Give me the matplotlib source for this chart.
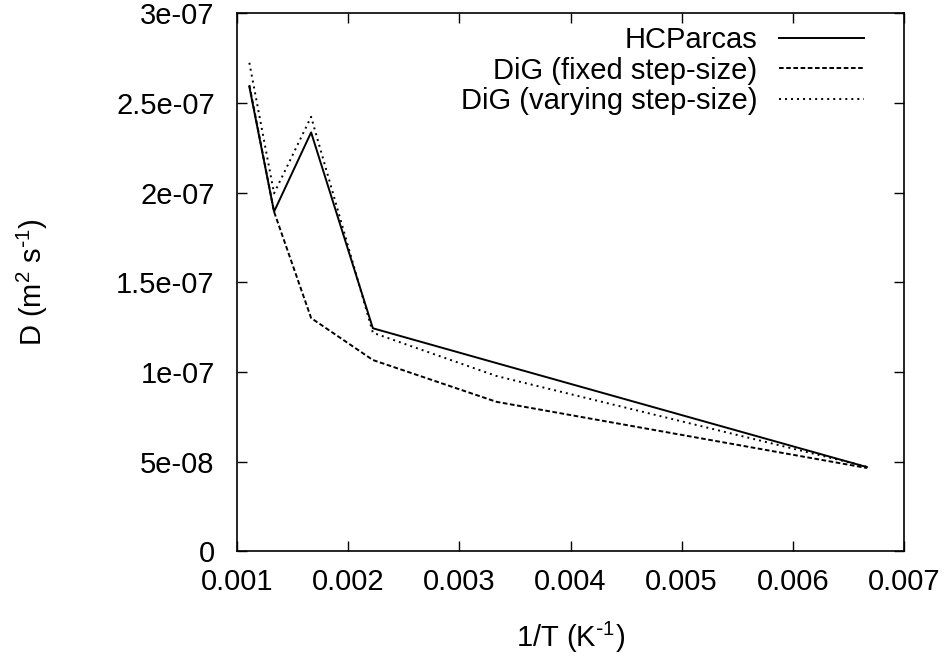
import matplotlib
matplotlib.use("Agg")
import matplotlib.pyplot as plt

plt.rcParams['font.family'] = ['Liberation Sans', 'DejaVu Sans']
plt.rcParams['mathtext.default'] = 'regular'

# Data: x = 1/T (K^-1), D (m^2 s^-1)
inv_T = [1/900, 1/750, 1/600, 1/450, 1/300, 1/150]
hcparcas = [2.59e-07, 1.894e-07, 2.336e-07, 1.244e-07, 1.050e-07, 4.70e-08]
dig_fixed = [2.60e-07, 1.894e-07, 1.301e-07, 1.067e-07, 8.34e-08, 4.65e-08]
dig_vary = [2.724e-07, 1.996e-07, 2.423e-07, 1.219e-07, 9.78e-08, 4.72e-08]

labels = ["HCParcas", "DiG (fixed step-size)", "DiG (varying step-size)"]

x_ticks = [0.001, 0.002, 0.003, 0.004, 0.005, 0.006, 0.007]
x_tick_labels = ["0.001", "0.002", "0.003", "0.004", "0.005", "0.006", "0.007"]
y_ticks = [0, 5e-08, 1e-07, 1.5e-07, 2e-07, 2.5e-07, 3e-07]
y_tick_labels = ["0", "5e-08", "1e-07", "1.5e-07", "2e-07", "2.5e-07", "3e-07"]

fig = plt.figure(figsize=(9.47, 6.57), dpi=100)
ax = fig.add_axes([237/947, 1-551.4/657, (904-237)/947, (551.4-13.3)/657])

lw = 1.4
ax.plot(inv_T, hcparcas, color='black', lw=lw, linestyle='-', label=labels[0])
ax.plot(inv_T, dig_fixed, color='black', lw=lw, linestyle=(0, (2.4, 1.3)), label=labels[1])
ax.plot(inv_T, dig_vary, color='black', lw=lw, linestyle=(0, (1.0, 2.1)), label=labels[2])

ax.set_xlim(0.001, 0.007)
ax.set_ylim(0, 3e-07)
ax.set_xticks(x_ticks)
ax.set_xticklabels(x_tick_labels)
ax.set_yticks(y_ticks)
ax.set_yticklabels(y_tick_labels)

fs = 21
ax.tick_params(direction='in', length=7, width=1, top=True, right=True,
               labelsize=fs)
ax.tick_params(axis='x', pad=12)
ax.tick_params(axis='y', pad=16)
for s in ax.spines.values():
    s.set_linewidth(1.2)

ax.set_xlabel(r"1/T (K$^{\text{-}1}$)", fontsize=fs)
ax.set_ylabel(r"D (m$^{2}$ s$^{\text{-}1}$)", fontsize=fs)
ax.xaxis.set_label_coords(0.5, -0.128)
ax.yaxis.set_label_coords(-0.280, 0.5)

leg = ax.legend(loc='upper right', bbox_to_anchor=(1 - 40/667, 1 - 13/538),
                frameon=False, markerfirst=False, fontsize=fs,
                handlelength=2.9, handletextpad=0.75, labelspacing=0.08,
                borderpad=0, borderaxespad=0)

fig.savefig("out.png", dpi=100)
